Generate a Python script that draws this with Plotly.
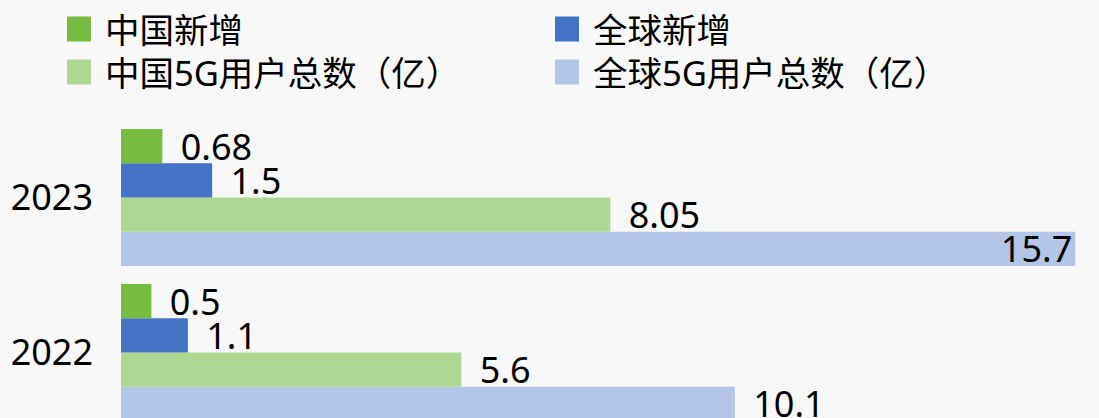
import plotly.graph_objects as go

# ---- data ----
years = ["2022", "2023"]
series_names = ["中国新增", "全球新增", "中国5G用户总数（亿）", "全球5G用户总数（亿）"]
china_new = [0.5, 0.68]
global_new = [1.1, 1.5]
china_total = [5.6, 8.05]
global_total = [10.1, 15.7]
colors = ["#77bc41", "#4472c4", "#add793", "#b4c6e7"]

series_values = [china_new, global_new, china_total, global_total]

W, H = 1099, 418
ML, MT = 121, 120
PW, PH = W - ML, H - MT
FONT = "Noto Sans, Noto Sans CJK SC"
NB = "\u00a0\u2009"
XMAX = 16.09

fig = go.Figure()

# add in reverse so that the first series sits at the top of each group
for idx in reversed(range(len(series_names))):
    vals = series_values[idx]
    texts, positions = [], []
    for v in vals:
        if v > XMAX * 0.93:
            texts.append(str(v))
            positions.append("inside")
        else:
            texts.append(NB + str(v))
            positions.append("outside")
    fig.add_trace(go.Bar(
        y=years, x=vals, orientation="h", name=series_names[idx],
        marker=dict(color=colors[idx], line=dict(width=0)),
        text=texts, textposition=positions, insidetextanchor="end",
        constraintext="none", cliponaxis=False,
        textfont=dict(size=36, color="#000000", family=FONT),
        insidetextfont=dict(size=36, color="#000000", family=FONT),
        outsidetextfont=dict(size=36, color="#000000", family=FONT),
        showlegend=False, hoverinfo="skip",
    ))

# ---- custom legend (2 columns) ----
def px_x(px):
    return (px - ML) / PW

def px_y(py):
    return 1 - (py - MT) / PH

col_x = [67, 555]
row_y = [29, 72]
shapes, annotations = [], []
for i, name in enumerate(series_names):
    c, r = i % 2, i // 2
    x0 = col_x[c]
    yc = row_y[r]
    shapes.append(dict(type="rect", xref="paper", yref="paper",
                       x0=px_x(x0), x1=px_x(x0 + 24),
                       y0=px_y(yc + 12.5), y1=px_y(yc - 12.5),
                       fillcolor=colors[i], line=dict(width=0)))
    annotations.append(dict(xref="paper", yref="paper", x=px_x(x0 + 36), y=px_y(yc),
                            xanchor="left", yanchor="middle", showarrow=False,
                            text=name, font=dict(size=34.5, color="#000000", family=FONT)))

fig.update_layout(
    width=W, height=H,
    margin=dict(l=ML, r=0, t=MT, b=0, pad=0),
    barmode="group", bargap=0.116, bargroupgap=0,
    paper_bgcolor="#f8f8f8", plot_bgcolor="rgba(0,0,0,0)",
    font=dict(family=FONT, color="#000000"),
    shapes=shapes, annotations=annotations,
    showlegend=False,
)
fig.update_xaxes(range=[0, XMAX], visible=False, showgrid=False, zeroline=False)
fig.update_yaxes(type="category", categoryorder="array", categoryarray=years,
                 range=[-0.4226, 1.5], showgrid=False, zeroline=False, showline=False,
                 ticks="", ticklabelstandoff=27,
                 tickfont=dict(size=36, color="#000000", family=FONT))

fig.write_html("out.html")
